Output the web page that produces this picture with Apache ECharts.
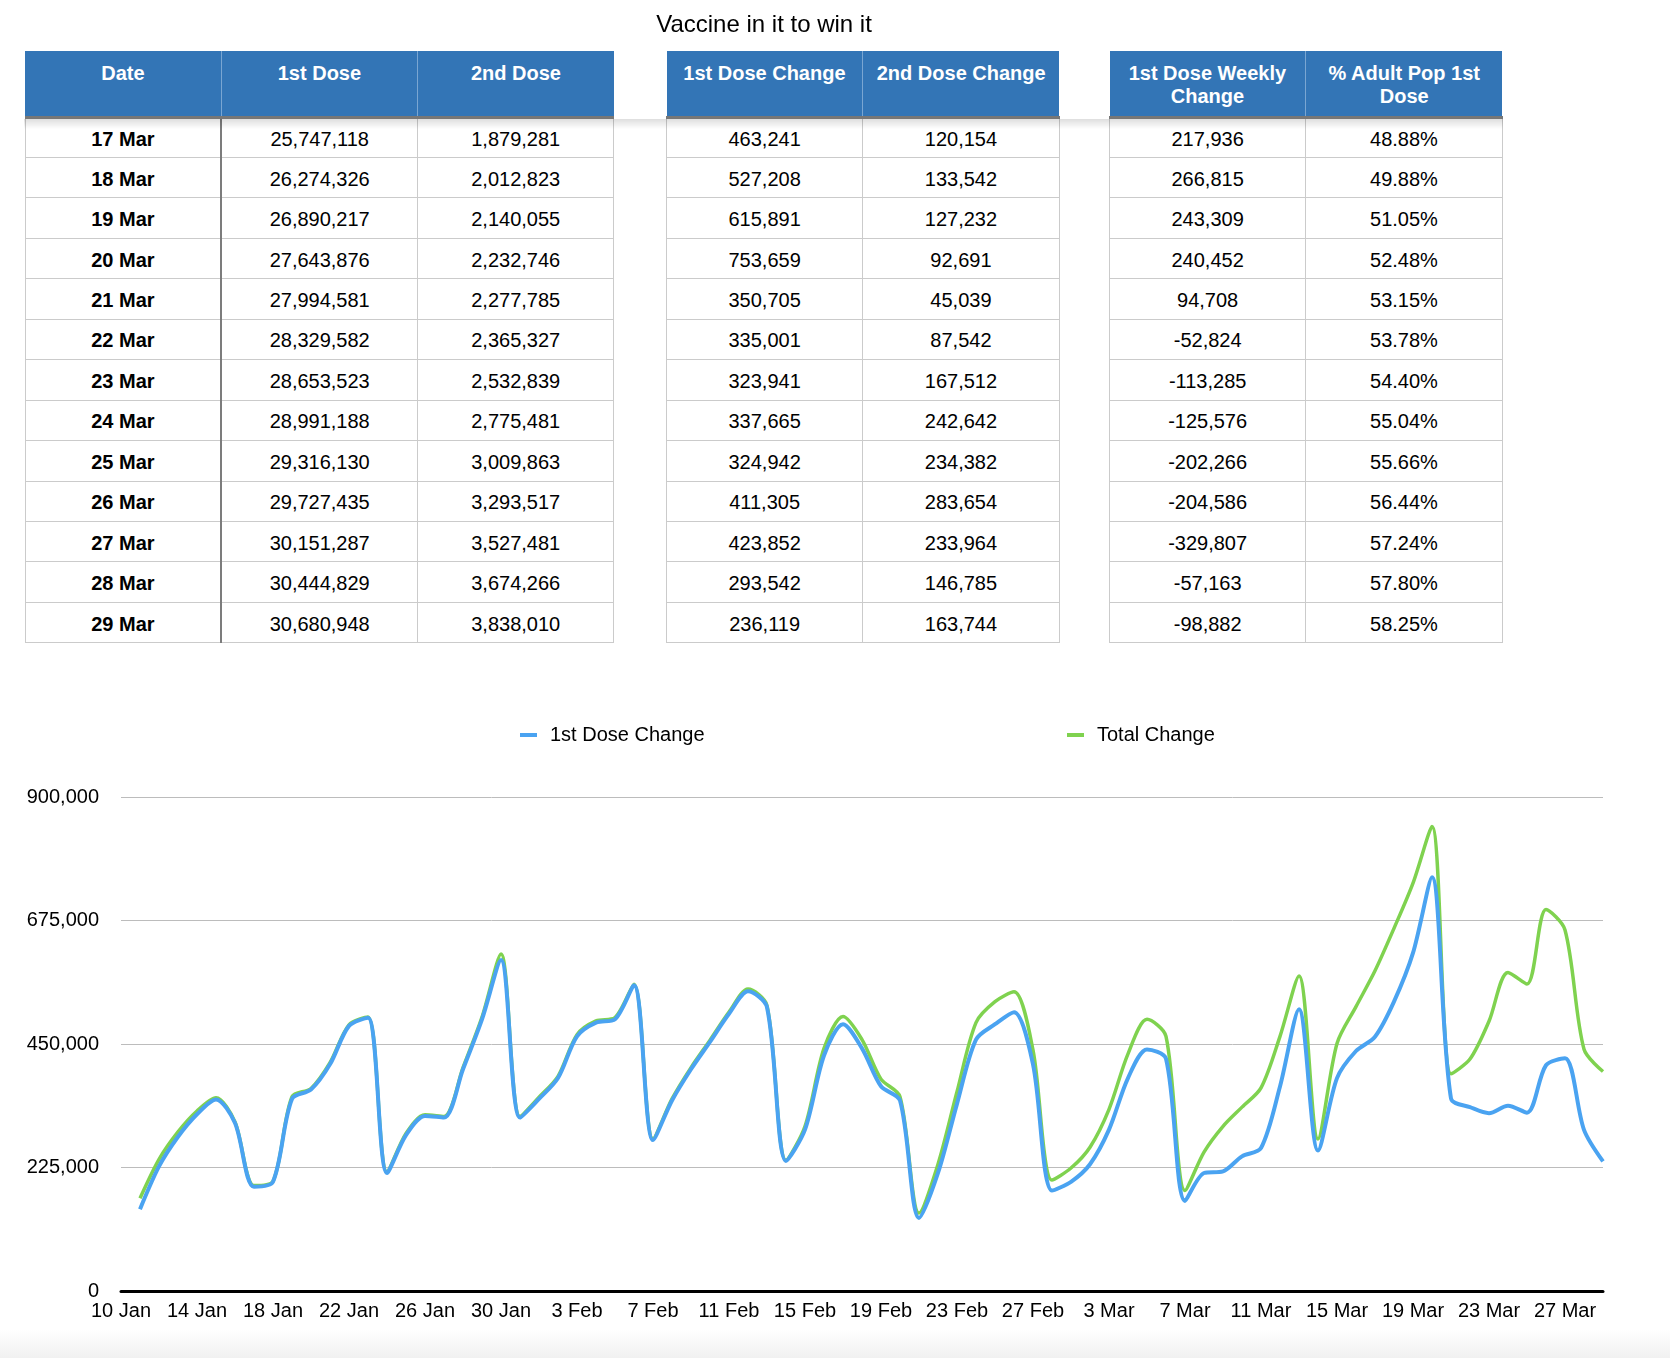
<!DOCTYPE html>
<html>
<head>
<meta charset="utf-8">
<script src="https://cdn.jsdelivr.net/npm/echarts@6/dist/echarts.min.js"></script>
<style>
  html, body { margin: 0; padding: 0; background: #fff; }
  body { width: 1670px; height: 1358px; position: relative; overflow: hidden; font-family: 'Liberation Sans', Arial, sans-serif; }
  #chart { position: absolute; left: 0; top: 0; width: 1670px; height: 1358px; z-index: 1; }
  .tbl { position: absolute; top: 51px; border-collapse: collapse; table-layout: fixed; z-index: 2; background: #fff; }
  .tbl th { background: #3375b6; color: #fff; font-weight: bold; font-size: 20px; line-height: 23px; height: 66px;
            padding: 11px 8px 0; box-sizing: border-box; vertical-align: top; text-align: center;
            border-left: 1px solid #7aa6d2; border-bottom: 3px solid #777; }
  .tbl th:first-child { border-left: none; }
  .tbl td { font-size: 20px; height: 40.46px; padding: 3px 0 0; text-align: center; border: 1px solid #cbcbcb; color: #000; box-sizing: border-box; }
  .tbl td.date { font-weight: bold; border-right: 2px solid #7c7c7c; }
  #shade { position: absolute; left: 24px; top: 119px; width: 1479px; height: 10px; z-index: 3;
           background: linear-gradient(rgba(0,0,0,0.13), rgba(0,0,0,0)); }
  #foot { position: absolute; left: 0; top: 1330px; width: 1670px; height: 28px; z-index: 0;
          background: linear-gradient(#ffffff, #f1f1f1); }
</style>
</head>
<body>
<div id="foot"></div>
<div id="chart"></div>
<div id="tables"></div>
<div id="shade"></div>
<script>
// table data
const tableDates = ['17 Mar', '18 Mar', '19 Mar', '20 Mar', '21 Mar', '22 Mar', '23 Mar', '24 Mar', '25 Mar', '26 Mar', '27 Mar', '28 Mar', '29 Mar']
const firstDose = [25747118, 26274326, 26890217, 27643876, 27994581, 28329582, 28653523, 28991188, 29316130, 29727435, 30151287, 30444829, 30680948]
const secondDose = [1879281, 2012823, 2140055, 2232746, 2277785, 2365327, 2532839, 2775481, 3009863, 3293517, 3527481, 3674266, 3838010]
const firstChange = [463241, 527208, 615891, 753659, 350705, 335001, 323941, 337665, 324942, 411305, 423852, 293542, 236119]
const secondChange = [120154, 133542, 127232, 92691, 45039, 87542, 167512, 242642, 234382, 283654, 233964, 146785, 163744]
const weeklyChange = [217936, 266815, 243309, 240452, 94708, -52824, -113285, -125576, -202266, -204586, -329807, -57163, -98882]
const adultPct = ['48.88%', '49.88%', '51.05%', '52.48%', '53.15%', '53.78%', '54.40%', '55.04%', '55.66%', '56.44%', '57.24%', '57.80%', '58.25%']

// chart data
const chartDates = [
  '10 Jan', '11 Jan', '12 Jan', '13 Jan', '14 Jan', '15 Jan', '16 Jan', '17 Jan', '18 Jan', '19 Jan', '20 Jan',
  '21 Jan', '22 Jan', '23 Jan', '24 Jan', '25 Jan', '26 Jan', '27 Jan', '28 Jan', '29 Jan', '30 Jan', '31 Jan',
  '1 Feb', '2 Feb', '3 Feb', '4 Feb', '5 Feb', '6 Feb', '7 Feb', '8 Feb', '9 Feb', '10 Feb', '11 Feb', '12 Feb',
  '13 Feb', '14 Feb', '15 Feb', '16 Feb', '17 Feb', '18 Feb', '19 Feb', '20 Feb', '21 Feb', '22 Feb', '23 Feb',
  '24 Feb', '25 Feb', '26 Feb', '27 Feb', '28 Feb',
  '1 Mar', '2 Mar', '3 Mar', '4 Mar', '5 Mar', '6 Mar', '7 Mar', '8 Mar', '9 Mar', '10 Mar', '11 Mar', '12 Mar',
  '13 Mar', '14 Mar', '15 Mar', '16 Mar', '17 Mar', '18 Mar', '19 Mar', '20 Mar', '21 Mar', '22 Mar', '23 Mar',
  '24 Mar', '25 Mar', '26 Mar', '27 Mar', '28 Mar', '29 Mar'
]
const firstDoseChange = [
  null, 149000, 227000, 281000, 322000, 349000, 306000, 190000, 199000, 350000, 367000,
  413000, 483000, 498000, 215000, 284000, 319000, 316000, 404000, 495000, 603000, 316000,
  350000, 388000, 464000, 489000, 495000, 557000, 275000, 347000, 404000, 454000, 505000, 546000,
  517000, 237000, 294000, 429000, 486000, 442000, 373000, 347000, 133000, 215000, 341000,
  458000, 486000, 508000, 413000, 183000,
  199000, 231000, 294000, 388000, 440000, 423000, 164000, 215000, 218000, 245305, 260393, 372582,
  513207, 255997, 387825, 437226, 463241, 527208, 615891, 753659, 350705, 335001, 323941,
  337665, 324942, 411305, 423852, 293542, 236119
]
const totalChange = [
  null, 169000, 240000, 290000, 328000, 352000, 308000, 192000, 200000, 354000, 369000,
  416000, 485000, 499000, 217000, 287000, 321000, 318000, 407000, 499000, 614000, 318000,
  353000, 391000, 467000, 492000, 498000, 559000, 277000, 350000, 407000, 457000, 508000, 550000,
  520000, 238000, 300000, 442000, 500000, 458000, 386000, 354000, 142000, 231000, 363000,
  489000, 527000, 545000, 439000, 202000,
  224000, 262000, 331000, 432000, 495000, 464000, 183000, 253000, 300000, 335000, 370000, 464000,
  574000, 277000, 451000, 518000, 583395, 660750, 743123, 846350, 395744, 422543, 491453,
  580307, 559324, 694959, 657816, 440327, 399863
]
const yTicks = { min: 0, max: 900000, step: 225000 }

const fmt = v => typeof v === 'number' ? v.toLocaleString('en-US') : v

// tables
const tableDefs = [
  { left: 24.5, headers: ['Date', '1st Dose', '2nd Dose'], cols: [tableDates, firstDose, secondDose] },
  { left: 666, headers: ['1st Dose Change', '2nd Dose Change'], cols: [firstChange, secondChange] },
  { left: 1109, headers: ['1st Dose Weekly Change', '% Adult Pop 1st Dose'], cols: [weeklyChange, adultPct] }
]
const colW = 196.3
let html = ''
tableDefs.forEach(t => {
  html += '<table class="tbl" style="left:' + t.left + 'px;width:' + (colW * t.headers.length) + 'px">'
  html += '<colgroup>' + t.headers.map(() => '<col style="width:' + colW + 'px">').join('') + '</colgroup>'
  html += '<thead><tr>' + t.headers.map(h => '<th>' + h + '</th>').join('') + '</tr></thead><tbody>'
  tableDates.forEach((d, i) => {
    html += '<tr>' + t.cols.map(c => {
      const cls = c === tableDates ? ' class="date"' : ''
      return '<td' + cls + '>' + fmt(c[i]) + '</td>'
    }).join('') + '</tr>'
  })
  html += '</tbody></table>'
})
document.getElementById('tables').innerHTML = html

// chart
const blue = '#4aa3f1'
const green = '#7fd24f'
const legendBase = {
  top: 725, padding: 0, icon: 'rect', itemWidth: 17, itemHeight: 4,
  textStyle: { fontSize: 20, color: '#000', padding: [0, 0, 0, 8] }
}
const myChart = echarts.init(document.getElementById('chart'))
myChart.setOption({
  animation: false,
  textStyle: { fontFamily: 'Liberation Sans, Arial, sans-serif' },
  title: {
    text: 'Vaccine in it to win it',
    left: 764, top: 13, padding: 0, textAlign: 'center',
    textStyle: { fontSize: 24, fontWeight: 'normal', color: '#000' }
  },
  legend: [
    Object.assign({}, legendBase, { left: 520, data: ['1st Dose Change'] }),
    Object.assign({}, legendBase, { left: 1067, data: ['Total Change'] })
  ],
  grid: { left: 121, right: 67, top: 797, bottom: 67, containLabel: false },
  xAxis: {
    type: 'category',
    data: chartDates,
    boundaryGap: false,
    axisLine: { lineStyle: { color: '#000', width: 3 } },
    axisTick: { show: false },
    axisLabel: { interval: 3, color: '#000', fontSize: 20, margin: 10 },
    splitLine: { show: false }
  },
  yAxis: {
    type: 'value',
    min: yTicks.min, max: yTicks.max, interval: yTicks.step,
    axisLine: { show: false },
    axisTick: { show: false },
    axisLabel: { color: '#000', fontSize: 20, margin: 22, formatter: v => v.toLocaleString('en-US') },
    splitLine: { lineStyle: { color: '#bcbcbc', width: 1 } }
  },
  series: [
    {
      name: 'Total Change', type: 'line', data: totalChange, smooth: 0.3, symbol: 'none',
      lineStyle: { color: green, width: 3.5 }, itemStyle: { color: green }
    },
    {
      name: '1st Dose Change', type: 'line', data: firstDoseChange, smooth: 0.3, symbol: 'none',
      lineStyle: { color: blue, width: 4 }, itemStyle: { color: blue }
    }
  ]
})
</script>
</body>
</html>
